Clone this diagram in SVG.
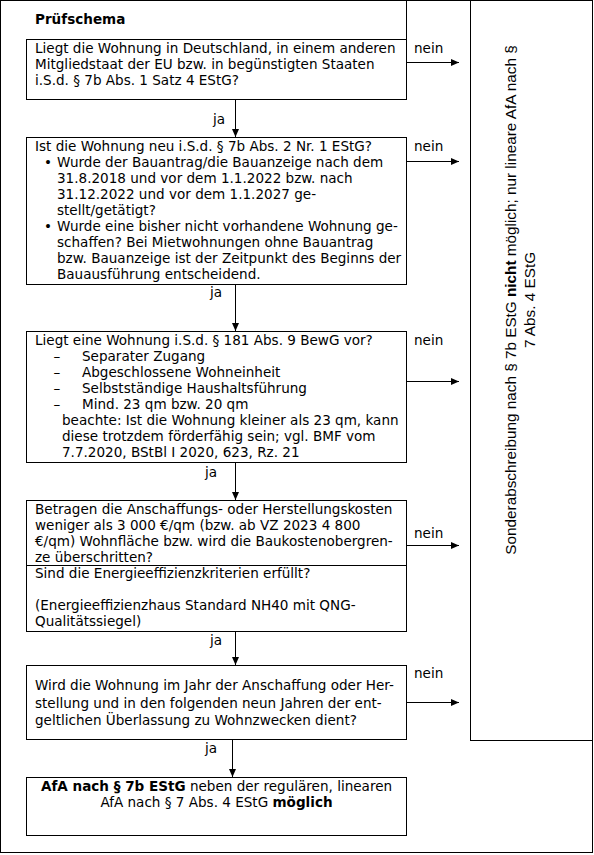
<svg xmlns="http://www.w3.org/2000/svg" width="594" height="855" viewBox="0 0 594 855">
<style>
.t{font-family:"DejaVu Sans",Verdana,sans-serif;font-size:13.55px;fill:#000}
.b{font-weight:bold}
.r{font-family:"Liberation Sans",Arial,sans-serif;font-size:15.3px;fill:#000}
.box{fill:#fff;stroke:#000;stroke-width:1}
.ln{fill:none;stroke:#000;stroke-width:1}
</style>
<defs>
<marker id="ah" markerUnits="userSpaceOnUse" markerWidth="9" markerHeight="9" refX="8" refY="4" orient="auto">
<path d="M0,0.5 L8,4 L0,7.5 z" fill="#000"/>
</marker>
</defs>
<rect width="594" height="855" fill="#fff"/>
<g id="frame">
<rect class="ln" x="0.5" y="0.5" width="592" height="852"/>
<line class="ln" x1="406.5" y1="0.5" x2="406.5" y2="39.5"/>
</g>
<g id="title"><text class="t b" x="35" y="24">Prüfschema</text></g>
<g id="q1">
<rect class="box" x="26.5" y="39.5" width="380" height="60"/>
<text class="t" x="35" y="53">Liegt die Wohnung in Deutschland, in einem anderen</text>
<text class="t" x="35" y="69">Mitgliedstaat der EU bzw. in begünstigten Staaten</text>
<text class="t" x="35" y="85">i.S.d. § 7b Abs. 1 Satz 4 EStG?</text>
</g>
<g id="q2">
<rect class="box" x="26.5" y="137.5" width="380" height="147"/>
<text class="t" x="35" y="151">Ist die Wohnung neu i.S.d. § 7b Abs. 2 Nr. 1 EStG?</text>
<text class="t" x="44" y="167" font-size="17">•</text>
<text class="t" x="57" y="167">Wurde der Bauantrag/die Bauanzeige nach dem</text>
<text class="t" x="57" y="183">31.8.2018 und vor dem 1.1.2022 bzw. nach</text>
<text class="t" x="57" y="199">31.12.2022 und vor dem 1.1.2027 ge-</text>
<text class="t" x="57" y="215">stellt/getätigt?</text>
<text class="t" x="44" y="231" font-size="17">•</text>
<text class="t" x="57" y="231">Wurde eine bisher nicht vorhandene Wohnung ge-</text>
<text class="t" x="57" y="246.5">schaffen? Bei Mietwohnungen ohne Bauantrag</text>
<text class="t" x="57" y="262.5">bzw. Bauanzeige ist der Zeitpunkt des Beginns der</text>
<text class="t" x="57" y="278.5">Bauausführung entscheidend.</text>
</g>
<g id="q3">
<rect class="box" x="26.5" y="331.5" width="380" height="131"/>
<text class="t" x="35" y="345">Liegt eine Wohnung i.S.d. § 181 Abs. 9 BewG vor?</text>
<text class="t" x="53.5" y="361">–</text><text class="t" x="82" y="361">Separater Zugang</text>
<text class="t" x="53.5" y="377">–</text><text class="t" x="82" y="377">Abgeschlossene Wohneinheit</text>
<text class="t" x="53.5" y="393">–</text><text class="t" x="82" y="393">Selbstständige Haushaltsführung</text>
<text class="t" x="53.5" y="409">–</text><text class="t" x="82" y="409">Mind. 23 qm bzw. 20 qm</text>
<text class="t" x="62" y="425">beachte: Ist die Wohnung kleiner als 23 qm, kann</text>
<text class="t" x="62" y="441">diese trotzdem förderfähig sein; vgl. BMF vom</text>
<text class="t" x="62" y="457">7.7.2020, BStBl I 2020, 623, Rz. 21</text>
</g>
<g id="q4">
<rect class="box" x="26.5" y="500.5" width="380" height="131"/>
<line class="ln" x1="26.5" y1="565.5" x2="406.5" y2="565.5"/>
<text class="t" x="35" y="514">Betragen die Anschaffungs- oder Herstellungskosten</text>
<text class="t" x="35" y="530">weniger als 3 000 €/qm (bzw. ab VZ 2023 4 800</text>
<text class="t" x="35" y="546">€/qm) Wohnfläche bzw. wird die Baukostenobergren-</text>
<text class="t" x="35" y="562">ze überschritten?</text>
<text class="t" x="35" y="578">Sind die Energieeffizienzkriterien erfüllt?</text>
<text class="t" x="35" y="610">(Energieeffizienzhaus Standard NH40 mit QNG-</text>
<text class="t" x="35" y="626">Qualitätssiegel)</text>
</g>
<g id="q5">
<rect class="box" x="26.5" y="665.5" width="380" height="74"/>
<text class="t" x="35" y="690">Wird die Wohnung im Jahr der Anschaffung oder Her-</text>
<text class="t" x="35" y="707.5">stellung und in den folgenden neun Jahren der ent-</text>
<text class="t" x="35" y="725">geltlichen Überlassung zu Wohnzwecken dient?</text>
</g>
<g id="result-yes">
<rect class="box" x="26.5" y="777.5" width="380" height="58"/>
<text class="t" x="216.5" y="791" text-anchor="middle"><tspan class="b">AfA nach § 7b EStG</tspan> neben der regulären, linearen</text>
<text class="t" x="216.5" y="807" text-anchor="middle">AfA nach § 7 Abs. 4 EStG <tspan class="b">möglich</tspan></text>
</g>
<g id="result-no">
<rect class="box" x="470.5" y="0.5" width="122" height="740"/>
<text class="r" transform="translate(516,300) rotate(-90)" text-anchor="middle">Sonderabschreibung nach § 7b EStG <tspan font-weight="bold">nicht</tspan> möglich; nur lineare AfA nach §</text>
<text class="r" transform="translate(535,300) rotate(-90)" text-anchor="middle">7 Abs. 4 EStG</text>
</g>
<g id="connectors">
<line class="ln" x1="235.5" y1="99.5" x2="235.5" y2="137" marker-end="url(#ah)"/>
<line class="ln" x1="235.5" y1="284.5" x2="235.5" y2="331" marker-end="url(#ah)"/>
<line class="ln" x1="235.5" y1="462.5" x2="235.5" y2="500" marker-end="url(#ah)"/>
<line class="ln" x1="235.5" y1="631.5" x2="235.5" y2="665" marker-end="url(#ah)"/>
<line class="ln" x1="232.5" y1="739.5" x2="232.5" y2="777" marker-end="url(#ah)"/>
<line class="ln" x1="406.5" y1="62.5" x2="459" y2="62.5" marker-end="url(#ah)"/>
<line class="ln" x1="406.5" y1="161.5" x2="459" y2="161.5" marker-end="url(#ah)"/>
<line class="ln" x1="406.5" y1="381.5" x2="459" y2="381.5" marker-end="url(#ah)"/>
<line class="ln" x1="406.5" y1="545.5" x2="459" y2="545.5" marker-end="url(#ah)"/>
<line class="ln" x1="406.5" y1="702.5" x2="459" y2="702.5" marker-end="url(#ah)"/>
<text class="t" x="213" y="124">ja</text>
<text class="t" x="210" y="297">ja</text>
<text class="t" x="205" y="477">ja</text>
<text class="t" x="210" y="645">ja</text>
<text class="t" x="205" y="753">ja</text>
<text class="t" x="414" y="53">nein</text>
<text class="t" x="414" y="151">nein</text>
<text class="t" x="414" y="345">nein</text>
<text class="t" x="414" y="538">nein</text>
<text class="t" x="414" y="678">nein</text>
</g>
</svg>
